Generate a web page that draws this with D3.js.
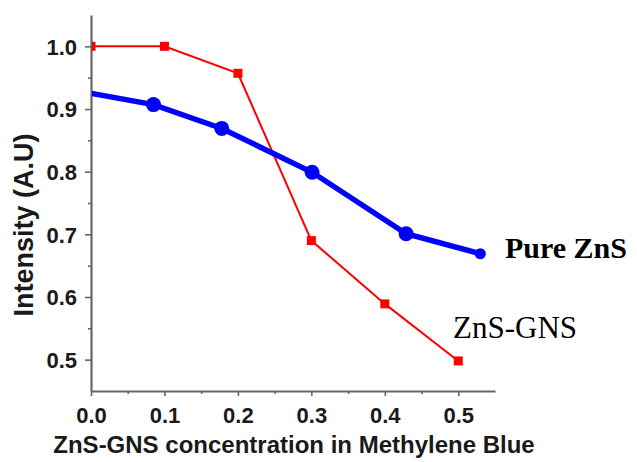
<!DOCTYPE html>
<html>
<head>
<meta charset="utf-8">
<script src="https://cdn.jsdelivr.net/npm/d3@7"></script>
<style>
    body { margin: 0; background: #fff; }
    .tick text { font-family: "Liberation Sans", Arial, sans-serif; font-weight: bold; font-size: 22px; fill: #1a1a1a; }
</style>
</head>
<body>
<div id="chart"></div>
<script>
// data
var gnsX = [0, 0.1, 0.2, 0.3, 0.4, 0.5];
var gnsY = [1.0, 1.0, 0.957, 0.69, 0.589, 0.498];
var pureX = [0, 0.085, 0.178, 0.301, 0.429, 0.53];
var pureY = [0.925, 0.907, 0.869, 0.799, 0.701, 0.669];
var xTicks = [0, 0.1, 0.2, 0.3, 0.4, 0.5];
var yTicks = [0.5, 0.6, 0.7, 0.8, 0.9, 1.0];

function init() {
    var w = 637;
    var h = 462;
    var left = 91, right = 495, top = 15, bottom = 391;

    var svg = d3.select("#chart")
        .append("svg")
        .attr("width", w)
        .attr("height", h);

    var xScale = d3.scaleLinear()
        .domain([0, 0.55])
        .range([left, right]);

    var yScale = d3.scaleLinear()
        .domain([0.45, 1.05])
        .range([bottom, top]);

    // minor ticks first
    var xMinor = d3.range(0.05, 0.55, 0.1);
    var yMinor = d3.range(0.55, 1.05, 0.1);

    svg.append("g")
        .attr("transform", "translate(0," + bottom + ")")
        .call(d3.axisBottom(xScale).tickValues(xMinor).tickSize(3).tickFormat(""))
        .call(function(g) { g.select(".domain").remove(); });

    svg.append("g")
        .attr("transform", "translate(" + left + ",0)")
        .call(d3.axisLeft(yScale).tickValues(yMinor).tickSize(3).tickFormat(""))
        .call(function(g) { g.select(".domain").remove(); });

    var xAxis = svg.append("g")
        .attr("transform", "translate(0," + bottom + ")")
        .call(d3.axisBottom(xScale).tickValues(xTicks).tickSize(5).tickSizeOuter(0).tickPadding(11).tickFormat(d3.format(".1f")));

    var yAxis = svg.append("g")
        .attr("transform", "translate(" + left + ",0)")
        .call(d3.axisLeft(yScale).tickValues(yTicks).tickSize(6).tickSizeOuter(0).tickPadding(8).tickFormat(d3.format(".1f")));

    svg.selectAll(".domain").attr("stroke", "#666").attr("stroke-width", 2.2);
    svg.selectAll(".tick line").attr("stroke", "#666").attr("stroke-width", 1.6);
    yAxis.selectAll(".tick text").attr("dy", "0.36em");

    // clip so markers at x = 0 sit behind the axis
    svg.append("clipPath")
        .attr("id", "plot")
        .append("rect")
        .attr("x", left + 1)
        .attr("y", top)
        .attr("width", right - left)
        .attr("height", bottom - top - 1);

    var plot = svg.append("g").attr("clip-path", "url(#plot)");

    var gns = gnsX.map(function(d, i) { return [d, gnsY[i]]; });
    var pure = pureX.map(function(d, i) { return [d, pureY[i]]; });

    var line = d3.line()
        .x(function(d) { return xScale(d[0]); })
        .y(function(d) { return yScale(d[1]); });

    plot.append("path")
        .datum(gns)
        .attr("d", line)
        .attr("fill", "none")
        .attr("stroke", "#ff0000")
        .attr("stroke-width", 2);

    plot.selectAll("rect.gns")
        .data(gns)
        .enter()
        .append("rect")
        .attr("class", "gns")
        .attr("x", function(d) { return xScale(d[0]) - 4.5; })
        .attr("y", function(d) { return yScale(d[1]) - 4.5; })
        .attr("width", 9)
        .attr("height", 9)
        .attr("fill", "#ff0000");

    plot.append("path")
        .datum(pure)
        .attr("d", line)
        .attr("fill", "none")
        .attr("stroke", "#0000ff")
        .attr("stroke-width", 5.5);

    plot.selectAll("circle")
        .data(pure.slice(1))
        .enter()
        .append("circle")
        .attr("cx", function(d) { return xScale(d[0]); })
        .attr("cy", function(d) { return yScale(d[1]); })
        .attr("r", function(d, i) { return i === pure.length - 2 ? 5.5 : 7.5; })
        .attr("fill", "#0000ff");

    // series labels
    svg.append("text")
        .attr("x", 505)
        .attr("y", 258)
        .attr("font-family", "'Liberation Serif', 'Times New Roman', serif")
        .attr("font-weight", "bold")
        .attr("font-size", 30)
        .text("Pure ZnS");

    svg.append("text")
        .attr("x", 453)
        .attr("y", 338)
        .attr("font-family", "'Liberation Serif', 'Times New Roman', serif")
        .attr("font-size", 31)
        .text("ZnS-GNS");

    // axis titles
    svg.append("text")
        .attr("x", 294)
        .attr("y", 453)
        .attr("text-anchor", "middle")
        .attr("font-family", "'Liberation Sans', Arial, sans-serif")
        .attr("font-weight", "bold")
        .attr("font-size", 24)
        .attr("fill", "#1a1a1a")
        .text("ZnS-GNS concentration in Methylene Blue");

    svg.append("text")
        .attr("transform", "translate(33,225) rotate(-90)")
        .attr("text-anchor", "middle")
        .attr("font-family", "'Liberation Sans', Arial, sans-serif")
        .attr("font-weight", "bold")
        .attr("font-size", 27)
        .attr("fill", "#1a1a1a")
        .text("Intensity (A.U)");
}

window.onload = init;
</script>
</body>
</html>
